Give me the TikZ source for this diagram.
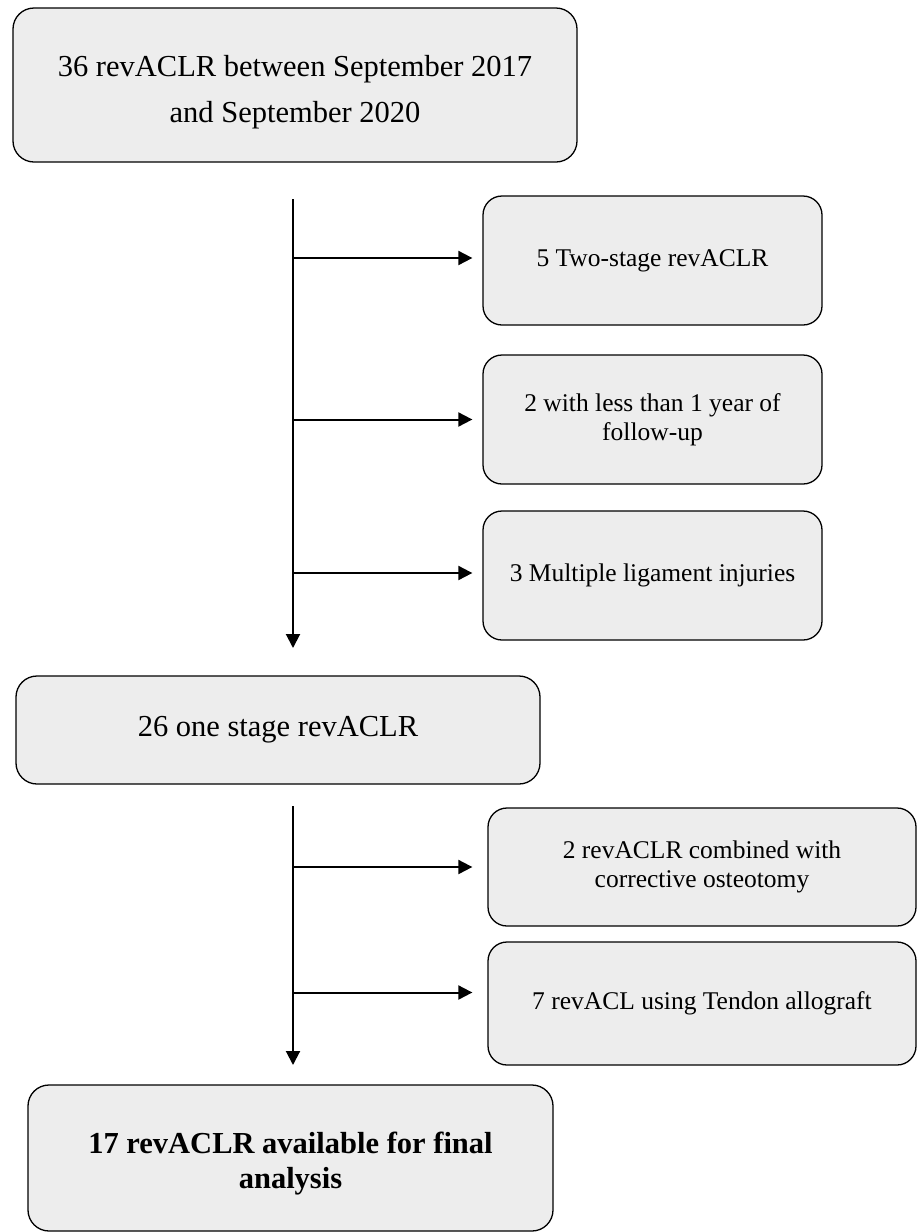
\documentclass[tikz,border=0pt]{standalone}
\usepackage{fontspec}
\setmainfont{Liberation Serif}
\usetikzlibrary{arrows.meta}
\definecolor{boxfill}{HTML}{EDEDED}
\tikzset{
  box/.style={draw=black, line width=1.3pt, fill=boxfill, rounded corners=21pt,
    inner sep=0pt, align=center, font=\fontsize{30.5}{46}\selectfont},
  smallbox/.style={box, rounded corners=19pt, font=\fontsize{25.5}{29}\selectfont},
  flow/.style={line width=2pt, -{Triangle[length=14pt,width=14pt]}},
}
\begin{document}
\begin{tikzpicture}[x=1pt,y=-1pt]
\useasboundingbox (0,0) rectangle (917,1232);
\node[box, minimum width=564pt, minimum height=154pt] (A) at (295,85)
  {\rule{0pt}{35pt}36 revACLR between September 2017\\and September 2020};
\node[smallbox, minimum width=339pt, minimum height=129pt] (C1) at (652.5,260.5)
  {5 Two-stage revACLR};
\node[smallbox, minimum width=339pt, minimum height=129pt] (C2) at (652.5,419.5)
  {2 with less than 1 year of\\follow-up};
\node[smallbox, minimum width=339pt, minimum height=129pt] (C3) at (652.5,575.5)
  {3 Multiple ligament injuries};
\node[box, minimum width=524pt, minimum height=108pt] (B) at (278,730)
  {26 one stage revACLR};
\node[smallbox, minimum width=428pt, minimum height=118pt] (C4) at (702,867)
  {2 revACLR combined with\\corrective osteotomy};
\node[smallbox, minimum width=428pt, minimum height=123pt] (C5) at (702,1003.5)
  {7 revACL using Tendon allograft};
\node[box, minimum width=525pt, minimum height=146pt, font=\fontsize{30.5}{35}\selectfont\bfseries] (D) at (290.5,1158)
  {\rule{0pt}{33pt}17 revACLR available for final\\analysis};
% connector end points
\coordinate (c1in) at ([yshift=2.5pt]C1.west);
\coordinate (c2in) at (C2.west);
\coordinate (c3in) at ([yshift=2.5pt]C3.west);
\coordinate (c4in) at (C4.west);
\coordinate (c5in) at ([yshift=11pt]C5.west);
% first stage
\coordinate (v1s) at (293,199);
\coordinate (v1e) at (293,648);
\draw[flow] (v1s) -- (v1e);
\draw[flow, shorten >=10pt] (v1s |- c1in) -- (c1in);
\draw[flow, shorten >=10pt] (v1s |- c2in) -- (c2in);
\draw[flow, shorten >=10pt] (v1s |- c3in) -- (c3in);
% second stage
\coordinate (v2s) at (293,806);
\coordinate (v2e) at (293,1065);
\draw[flow] (v2s) -- (v2e);
\draw[flow, shorten >=15pt] (v2s |- c4in) -- (c4in);
\draw[flow, shorten >=15pt] (v2s |- c5in) -- (c5in);
\end{tikzpicture}
\end{document}
